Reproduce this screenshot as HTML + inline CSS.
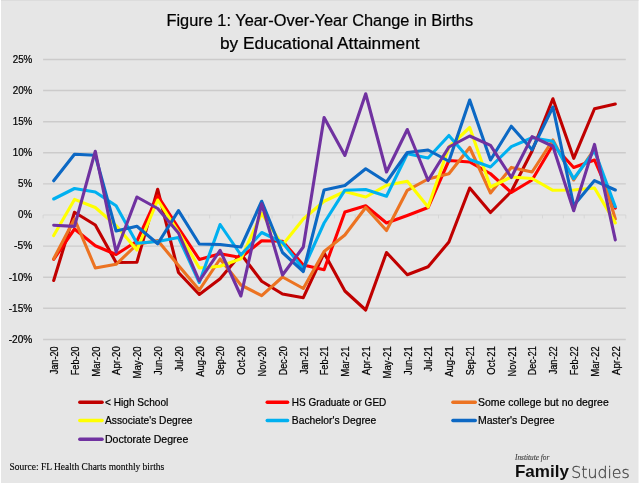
<!DOCTYPE html>
<html lang="en"><head><meta charset="utf-8"><title>Figure 1: Year-Over-Year Change in Births by Educational Attainment</title>
<style>
html,body{margin:0;padding:0;background:#fff;}
body{width:640px;height:486px;overflow:hidden;}
svg{display:block;}
.s{font-family:"Liberation Sans",sans-serif;fill:#000;stroke:#000;stroke-width:0.22;}
.r{font-family:"Liberation Serif",serif;fill:#000;stroke:#000;stroke-width:0.12;}
.ln{fill:none;stroke-width:3.1;stroke-linejoin:round;stroke-linecap:round;}
</style></head><body>
<svg width="640" height="486" viewBox="0 0 640 486">
<defs><filter id="soft" x="0" y="0" width="640" height="486" filterUnits="userSpaceOnUse"><feGaussianBlur stdDeviation="0.38"/></filter></defs>
<rect x="0" y="0" width="640" height="486" fill="#fff"/>
<g filter="url(#soft)">
<rect x="1" y="0" width="637.5" height="483" fill="#e6e6e6"/>
<rect x="1" y="0" width="637.5" height="1" fill="#dcdcdc"/>
<line x1="43.1" x2="625.8" y1="339.44" y2="339.44" stroke="#cccbcb" stroke-width="1.45"/>
<line x1="43.1" x2="625.8" y1="308.33" y2="308.33" stroke="#cccbcb" stroke-width="1.45"/>
<line x1="43.1" x2="625.8" y1="277.22" y2="277.22" stroke="#cccbcb" stroke-width="1.45"/>
<line x1="43.1" x2="625.8" y1="246.11" y2="246.11" stroke="#cccbcb" stroke-width="1.45"/>
<line x1="43.1" x2="625.8" y1="183.89" y2="183.89" stroke="#cccbcb" stroke-width="1.45"/>
<line x1="43.1" x2="625.8" y1="152.78" y2="152.78" stroke="#cccbcb" stroke-width="1.45"/>
<line x1="43.1" x2="625.8" y1="121.67" y2="121.67" stroke="#cccbcb" stroke-width="1.45"/>
<line x1="43.1" x2="625.8" y1="90.56" y2="90.56" stroke="#cccbcb" stroke-width="1.45"/>
<line x1="43.1" x2="625.8" y1="59.45" y2="59.45" stroke="#cccbcb" stroke-width="1.45"/>
<line x1="43.1" x2="625.8" y1="215.0" y2="215.0" stroke="#d3d3d3" stroke-width="0.85"/>
<path d="M43.10 215.0v3.4M63.91 215.0v3.4M84.72 215.0v3.4M105.53 215.0v3.4M126.34 215.0v3.4M147.15 215.0v3.4M167.96 215.0v3.4M188.77 215.0v3.4M209.59 215.0v3.4M230.40 215.0v3.4M251.21 215.0v3.4M272.02 215.0v3.4M292.83 215.0v3.4M313.64 215.0v3.4M334.45 215.0v3.4M355.26 215.0v3.4M376.07 215.0v3.4M396.88 215.0v3.4M417.69 215.0v3.4M438.50 215.0v3.4M459.31 215.0v3.4M480.12 215.0v3.4M500.94 215.0v3.4M521.75 215.0v3.4M542.56 215.0v3.4M563.37 215.0v3.4M584.18 215.0v3.4M604.99 215.0v3.4M625.80 215.0v3.4" stroke="#d3d3d3" stroke-width="0.85" fill="none"/>
<text class="s" x="32.3" y="62.75" font-size="10.4" text-anchor="end" textLength="19.6" lengthAdjust="spacingAndGlyphs">25%</text>
<text class="s" x="32.3" y="93.86" font-size="10.4" text-anchor="end" textLength="19.6" lengthAdjust="spacingAndGlyphs">20%</text>
<text class="s" x="32.3" y="124.97" font-size="10.4" text-anchor="end" textLength="19.6" lengthAdjust="spacingAndGlyphs">15%</text>
<text class="s" x="32.3" y="156.08" font-size="10.4" text-anchor="end" textLength="19.6" lengthAdjust="spacingAndGlyphs">10%</text>
<text class="s" x="32.3" y="187.19" font-size="10.4" text-anchor="end" textLength="14.2" lengthAdjust="spacingAndGlyphs">5%</text>
<text class="s" x="32.3" y="218.30" font-size="10.4" text-anchor="end" textLength="14.2" lengthAdjust="spacingAndGlyphs">0%</text>
<text class="s" x="32.3" y="249.41" font-size="10.4" text-anchor="end" textLength="18.2" lengthAdjust="spacingAndGlyphs">-5%</text>
<text class="s" x="32.3" y="280.52" font-size="10.4" text-anchor="end" textLength="23.6" lengthAdjust="spacingAndGlyphs">-10%</text>
<text class="s" x="32.3" y="311.63" font-size="10.4" text-anchor="end" textLength="23.6" lengthAdjust="spacingAndGlyphs">-15%</text>
<text class="s" x="32.3" y="342.74" font-size="10.4" text-anchor="end" textLength="23.6" lengthAdjust="spacingAndGlyphs">-20%</text>
<polyline class="ln" stroke="#C00000" points="53.70,280.50 74.50,212.30 95.30,225.00 116.10,262.50 136.90,262.20 157.70,189.30 178.50,272.50 199.30,294.50 220.10,278.75 240.90,254.00 261.70,281.25 282.50,294.00 303.30,297.70 324.10,253.00 344.90,291.00 365.70,310.00 386.50,252.50 407.30,274.70 428.10,266.80 448.90,242.00 469.70,188.00 490.50,212.50 511.30,191.50 532.10,151.00 552.90,98.75 573.70,158.30 594.50,108.75 615.30,104.00"/>
<polyline class="ln" stroke="#FF0000" points="53.70,259.30 74.50,229.00 95.30,245.80 116.10,254.50 136.90,241.25 157.70,195.80 178.50,228.00 199.30,259.50 220.10,253.75 240.90,257.50 261.70,240.80 282.50,241.20 303.30,265.00 324.10,269.75 344.90,212.00 365.70,205.75 386.50,223.00 407.30,215.50 428.10,207.50 448.90,160.50 469.70,162.00 490.50,173.75 511.30,192.50 532.10,180.00 552.90,145.00 573.70,167.50 594.50,160.00 615.30,208.20"/>
<polyline class="ln" stroke="#EC7320" points="53.70,258.75 74.50,219.00 95.30,268.00 116.10,264.30 136.90,244.50 157.70,240.50 178.50,265.60 199.30,290.00 220.10,259.00 240.90,285.00 261.70,295.60 282.50,277.00 303.30,288.50 324.10,251.50 344.90,235.00 365.70,207.50 386.50,230.50 407.30,190.30 428.10,179.00 448.90,173.75 469.70,147.50 490.50,193.00 511.30,167.40 532.10,172.00 552.90,140.00 573.70,180.00 594.50,148.75 615.30,219.00"/>
<polyline class="ln" stroke="#FFFF00" points="53.70,235.60 74.50,199.40 95.30,207.50 116.10,225.60 136.90,250.00 157.70,200.00 178.50,232.00 199.30,268.00 220.10,266.25 240.90,258.75 261.70,213.30 282.50,245.00 303.30,219.00 324.10,201.25 344.90,191.50 365.70,197.00 386.50,185.30 407.30,181.25 428.10,207.00 448.90,147.00 469.70,127.50 490.50,187.00 511.30,177.00 532.10,178.50 552.90,190.30 573.70,190.00 594.50,188.00 615.30,222.90"/>
<polyline class="ln" stroke="#00B0F0" points="53.70,199.00 74.50,188.50 95.30,192.00 116.10,205.75 136.90,243.30 157.70,241.50 178.50,237.50 199.30,282.50 220.10,224.50 240.90,255.00 261.70,232.50 282.50,242.50 303.30,269.00 324.10,223.00 344.90,190.20 365.70,189.50 386.50,196.25 407.30,153.75 428.10,158.00 448.90,135.50 469.70,159.50 490.50,167.00 511.30,146.60 532.10,137.80 552.90,141.25 573.70,178.75 594.50,150.60 615.30,206.70"/>
<polyline class="ln" stroke="#0868C4" points="53.70,180.75 74.50,154.25 95.30,155.25 116.10,231.00 136.90,226.25 157.70,243.75 178.50,210.60 199.30,244.00 220.10,244.50 240.90,247.00 261.70,201.25 282.50,252.50 303.30,271.50 324.10,190.00 344.90,185.50 365.70,168.75 386.50,182.00 407.30,152.50 428.10,150.00 448.90,161.25 469.70,100.00 490.50,160.00 511.30,126.25 532.10,149.75 552.90,107.00 573.70,205.50 594.50,180.60 615.30,190.00"/>
<polyline class="ln" stroke="#7030A0" points="53.70,225.20 74.50,226.40 95.30,151.25 116.10,252.00 136.90,197.00 157.70,208.50 178.50,233.00 199.30,281.00 220.10,250.30 240.90,296.00 261.70,203.75 282.50,275.00 303.30,247.00 324.10,117.50 344.90,155.50 365.70,93.75 386.50,172.00 407.30,129.50 428.10,180.50 448.90,147.00 469.70,136.00 490.50,145.30 511.30,177.50 532.10,136.60 552.90,146.25 573.70,210.70 594.50,144.40 615.30,239.90"/>
<text class="s" font-size="10.4" text-anchor="end" transform="translate(58.00 346.3) rotate(-90)" textLength="28.0" lengthAdjust="spacingAndGlyphs">Jan-20</text>
<text class="s" font-size="10.4" text-anchor="end" transform="translate(78.80 346.3) rotate(-90)" textLength="29.0" lengthAdjust="spacingAndGlyphs">Feb-20</text>
<text class="s" font-size="10.4" text-anchor="end" transform="translate(99.60 346.3) rotate(-90)" textLength="30.5" lengthAdjust="spacingAndGlyphs">Mar-20</text>
<text class="s" font-size="10.4" text-anchor="end" transform="translate(120.40 346.3) rotate(-90)" textLength="28.6" lengthAdjust="spacingAndGlyphs">Apr-20</text>
<text class="s" font-size="10.4" text-anchor="end" transform="translate(141.20 346.3) rotate(-90)" textLength="32.3" lengthAdjust="spacingAndGlyphs">May-20</text>
<text class="s" font-size="10.4" text-anchor="end" transform="translate(162.00 346.3) rotate(-90)" textLength="28.6" lengthAdjust="spacingAndGlyphs">Jun-20</text>
<text class="s" font-size="10.4" text-anchor="end" transform="translate(182.80 346.3) rotate(-90)" textLength="25.2" lengthAdjust="spacingAndGlyphs">Jul-20</text>
<text class="s" font-size="10.4" text-anchor="end" transform="translate(203.60 346.3) rotate(-90)" textLength="30.5" lengthAdjust="spacingAndGlyphs">Aug-20</text>
<text class="s" font-size="10.4" text-anchor="end" transform="translate(224.40 346.3) rotate(-90)" textLength="29.0" lengthAdjust="spacingAndGlyphs">Sep-20</text>
<text class="s" font-size="10.4" text-anchor="end" transform="translate(245.20 346.3) rotate(-90)" textLength="28.4" lengthAdjust="spacingAndGlyphs">Oct-20</text>
<text class="s" font-size="10.4" text-anchor="end" transform="translate(266.00 346.3) rotate(-90)" textLength="30.2" lengthAdjust="spacingAndGlyphs">Nov-20</text>
<text class="s" font-size="10.4" text-anchor="end" transform="translate(286.80 346.3) rotate(-90)" textLength="29.0" lengthAdjust="spacingAndGlyphs">Dec-20</text>
<text class="s" font-size="10.4" text-anchor="end" transform="translate(307.60 346.3) rotate(-90)" textLength="28.0" lengthAdjust="spacingAndGlyphs">Jan-21</text>
<text class="s" font-size="10.4" text-anchor="end" transform="translate(328.40 346.3) rotate(-90)" textLength="29.0" lengthAdjust="spacingAndGlyphs">Feb-21</text>
<text class="s" font-size="10.4" text-anchor="end" transform="translate(349.20 346.3) rotate(-90)" textLength="30.5" lengthAdjust="spacingAndGlyphs">Mar-21</text>
<text class="s" font-size="10.4" text-anchor="end" transform="translate(370.00 346.3) rotate(-90)" textLength="28.6" lengthAdjust="spacingAndGlyphs">Apr-21</text>
<text class="s" font-size="10.4" text-anchor="end" transform="translate(390.80 346.3) rotate(-90)" textLength="32.3" lengthAdjust="spacingAndGlyphs">May-21</text>
<text class="s" font-size="10.4" text-anchor="end" transform="translate(411.60 346.3) rotate(-90)" textLength="28.6" lengthAdjust="spacingAndGlyphs">Jun-21</text>
<text class="s" font-size="10.4" text-anchor="end" transform="translate(432.40 346.3) rotate(-90)" textLength="25.2" lengthAdjust="spacingAndGlyphs">Jul-21</text>
<text class="s" font-size="10.4" text-anchor="end" transform="translate(453.20 346.3) rotate(-90)" textLength="30.5" lengthAdjust="spacingAndGlyphs">Aug-21</text>
<text class="s" font-size="10.4" text-anchor="end" transform="translate(474.00 346.3) rotate(-90)" textLength="29.0" lengthAdjust="spacingAndGlyphs">Sep-21</text>
<text class="s" font-size="10.4" text-anchor="end" transform="translate(494.80 346.3) rotate(-90)" textLength="28.4" lengthAdjust="spacingAndGlyphs">Oct-21</text>
<text class="s" font-size="10.4" text-anchor="end" transform="translate(515.60 346.3) rotate(-90)" textLength="30.2" lengthAdjust="spacingAndGlyphs">Nov-21</text>
<text class="s" font-size="10.4" text-anchor="end" transform="translate(536.40 346.3) rotate(-90)" textLength="29.0" lengthAdjust="spacingAndGlyphs">Dec-21</text>
<text class="s" font-size="10.4" text-anchor="end" transform="translate(557.20 346.3) rotate(-90)" textLength="28.0" lengthAdjust="spacingAndGlyphs">Jan-22</text>
<text class="s" font-size="10.4" text-anchor="end" transform="translate(578.00 346.3) rotate(-90)" textLength="29.0" lengthAdjust="spacingAndGlyphs">Feb-22</text>
<text class="s" font-size="10.4" text-anchor="end" transform="translate(598.80 346.3) rotate(-90)" textLength="30.5" lengthAdjust="spacingAndGlyphs">Mar-22</text>
<text class="s" font-size="10.4" text-anchor="end" transform="translate(619.60 346.3) rotate(-90)" textLength="28.6" lengthAdjust="spacingAndGlyphs">Apr-22</text>
<text class="s" stroke-width="0.1" x="319.8" y="26.3" font-size="16.3" text-anchor="middle" textLength="306.6" lengthAdjust="spacingAndGlyphs">Figure 1: Year-Over-Year Change in Births</text>
<text class="s" stroke-width="0.1" x="319.8" y="48.5" font-size="16.3" text-anchor="middle" textLength="199.6" lengthAdjust="spacingAndGlyphs">by Educational Attainment</text>
<line x1="79.8" x2="102.1" y1="402.3" y2="402.3" stroke="#C00000" stroke-width="3.4" stroke-linecap="round"/>
<text class="s" x="105.0" y="405.70" font-size="10.9" textLength="63.3" lengthAdjust="spacingAndGlyphs">&lt; High School</text>
<line x1="267.2" x2="287.6" y1="402.3" y2="402.3" stroke="#FF0000" stroke-width="3.4" stroke-linecap="round"/>
<text class="s" x="291.8" y="405.70" font-size="10.9" textLength="94.5" lengthAdjust="spacingAndGlyphs">HS Graduate or GED</text>
<line x1="452.9" x2="475.3" y1="402.3" y2="402.3" stroke="#EC7320" stroke-width="3.4" stroke-linecap="round"/>
<text class="s" x="478.0" y="405.70" font-size="10.9" textLength="130.7" lengthAdjust="spacingAndGlyphs">Some college but no degree</text>
<line x1="79.8" x2="102.1" y1="420.5" y2="420.5" stroke="#FFFF00" stroke-width="3.4" stroke-linecap="round"/>
<text class="s" x="105.0" y="423.90" font-size="10.9" textLength="87.5" lengthAdjust="spacingAndGlyphs">Associate's Degree</text>
<line x1="267.2" x2="287.6" y1="420.5" y2="420.5" stroke="#00B0F0" stroke-width="3.4" stroke-linecap="round"/>
<text class="s" x="291.8" y="423.90" font-size="10.9" textLength="84.5" lengthAdjust="spacingAndGlyphs">Bachelor's Degree</text>
<line x1="452.9" x2="475.3" y1="420.5" y2="420.5" stroke="#0868C4" stroke-width="3.4" stroke-linecap="round"/>
<text class="s" x="478.0" y="423.90" font-size="10.9" textLength="76.7" lengthAdjust="spacingAndGlyphs">Master's Degree</text>
<line x1="79.8" x2="102.1" y1="439.3" y2="439.3" stroke="#7030A0" stroke-width="3.4" stroke-linecap="round"/>
<text class="s" x="105.0" y="442.70" font-size="10.9" textLength="83.3" lengthAdjust="spacingAndGlyphs">Doctorate Degree</text>
<text class="r" x="9.6" y="470.1" font-size="10.3" textLength="154.6" lengthAdjust="spacingAndGlyphs">Source: FL Health Charts monthly births</text>
<text x="515.0" y="459.8" font-family="'Liberation Serif',serif" font-style="italic" font-size="7.7" fill="#3c3c3c" stroke="#3c3c3c" stroke-width="0.12" textLength="34.3" lengthAdjust="spacingAndGlyphs">Institute for</text>
<text x="514.9" y="477.3" font-family="'Liberation Sans',sans-serif" font-weight="bold" font-size="16.4" fill="#111" textLength="54.0" lengthAdjust="spacingAndGlyphs">Family</text>
<text x="571.2" y="477.6" font-family="'DejaVu Sans Light','DejaVu Sans',sans-serif" font-weight="200" font-size="16.3" fill="#444" stroke="#444" stroke-width="0.3" textLength="58.6" lengthAdjust="spacingAndGlyphs">Studies</text>
</g>
</svg>
</body></html>
